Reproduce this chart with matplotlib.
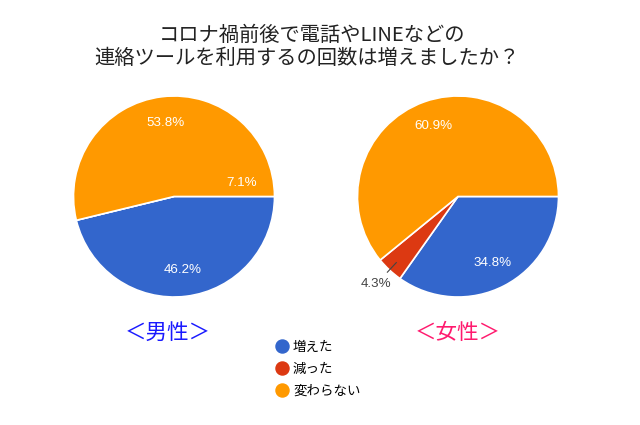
import matplotlib
matplotlib.use("Agg")
import matplotlib.pyplot as plt
from matplotlib.lines import Line2D
import numpy as np

categories = ["増えた", "減った", "変わらない"]
male = [46.2, 0.0, 53.8]
female = [34.8, 4.3, 60.9]
colors = ["#3366cc", "#dc3912", "#ff9900"]
title_lines = ["コロナ禍前後で電話やLINEなどの", "連絡ツールを利用するの回数は増えましたか？"]
group_labels = ["＜男性＞", "＜女性＞"]
group_colors = ["#1a1aff", "#ff1a6e"]
male_stray_label = "7.1%"

W, H = 640, 425
fig = plt.figure(figsize=(6.4, 4.25), dpi=100)
fig.patch.set_facecolor("white")

JP = ['Noto Sans CJK JP', 'DejaVu Sans']
NUM = ['Liberation Sans', 'DejaVu Sans']
LIM = 1.3


def add_pie_axes(cx, cy, r):
    size = 2 * LIM * r
    return fig.add_axes([(cx - LIM * r) / W, 1 - (cy + LIM * r) / H, size / W, size / H])


def draw_pie(ax, values):
    wedges, _ = ax.pie(values, colors=colors, startangle=0, counterclock=False,
                       wedgeprops=dict(edgecolor='white', linewidth=1.2))
    ax.set_xlim(-LIM, LIM)
    ax.set_ylim(-LIM, LIM)
    ax.set_aspect('equal')
    ax.axis('off')
    total = sum(values)
    for w, v in zip(wedges, values):
        if v <= 0:
            continue
        ang = np.deg2rad((w.theta1 + w.theta2) / 2)
        c, s = np.cos(ang), np.sin(ang)
        if v / total >= 0.05:
            ax.text(0.74 * c, 0.74 * s, f"{v:.1f}%", ha='center', va='center',
                    color='white', fontsize=9.6, family=NUM)
        else:
            ax.plot([0.9 * c, 1.03 * c], [0.9 * s, 1.03 * s], color='#444444', lw=0.8)
            ax.text(1.19 * c, 1.19 * s, f"{v:.1f}%", ha='center', va='center',
                    color='#444444', fontsize=9.6, family=NUM)
    return wedges


ax1 = add_pie_axes(174, 196.5, 100.5)
draw_pie(ax1, male)
a = np.deg2rad(11)
ax1.text(0.69 * np.cos(a), 0.69 * np.sin(a), male_stray_label, ha='center', va='center',
         color='white', fontsize=9.6, family=NUM)

ax2 = add_pie_axes(458, 196.5, 100.5)
draw_pie(ax2, female)

fig.text(312 / W, 1 - 35 / H, title_lines[0], ha='center', va='center',
         fontsize=14.6, family=JP, color='#222222')
fig.text(307 / W, 1 - 58 / H, title_lines[1], ha='center', va='center',
         fontsize=14.6, family=JP, color='#222222')

fig.text(168 / W, 1 - 333 / H, group_labels[0], ha='center', va='center',
         fontsize=15.5, family=JP, color=group_colors[0])
fig.text(458 / W, 1 - 333 / H, group_labels[1], ha='center', va='center',
         fontsize=15.5, family=JP, color=group_colors[1])

handles = [Line2D([], [], marker='o', linestyle='none', markersize=9.4,
                  markerfacecolor=c, markeredgecolor=c) for c in colors]
fig.legend(handles, categories, loc='upper left',
           bbox_to_anchor=(275.5 / W, 1 - 340 / H), frameon=False,
           prop={'family': JP, 'size': 9.7}, handlelength=1.0,
           handletextpad=0.3, labelspacing=0.6, borderpad=0, borderaxespad=0)

fig.savefig("out.png", dpi=100, facecolor='white')
